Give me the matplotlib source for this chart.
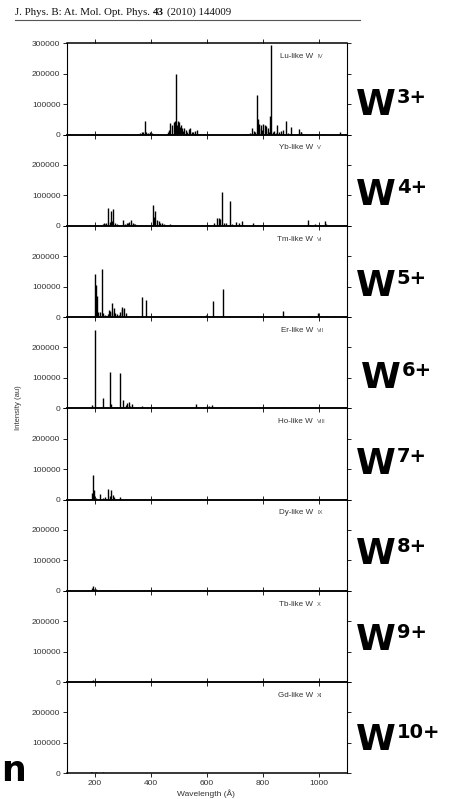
import matplotlib
matplotlib.use("Agg")
import matplotlib.pyplot as plt
from matplotlib.lines import Line2D
from matplotlib.ticker import FuncFormatter

# ---- data (wavelength in Angstrom, intensity in au) ----
lu_wl = [310, 362, 368, 374, 378, 383, 392, 398, 404,
         462, 466, 470, 476, 482, 486, 488, 491, 494, 496, 501, 505, 508, 513, 517, 520, 527, 531, 535, 541, 546, 551, 559, 565,
         733, 745, 755, 763, 769, 774, 779, 782, 785, 788, 793, 797, 801, 807, 810, 813, 819, 823, 827, 830, 836, 841, 846, 851,
         859, 867, 874, 883, 891, 901, 931, 935, 937, 943, 1015, 1075]
lu_int = [2000, 5000, 8000, 10000, 44000, 8000, 5000, 9000, 6000,
          8000, 15000, 38000, 30000, 42000, 25000, 45000, 200000, 30000, 45000, 40000, 25000, 30000, 20000, 12000, 20000, 15000,
          10000, 18000, 20000, 8000, 10000, 12000, 15000,
          2000, 3000, 6000, 20000, 12000, 8000, 131000, 50000, 20000, 35000, 30000, 15000, 35000, 30000, 12000, 28000, 20000,
          10000, 60000, 295000, 8000, 12000, 6000, 33000, 10000, 12000, 15000, 44000, 6000, 25000, 18000, 10000, 8000, 3000,
          2000, 7000]

yb_wl = [228, 234, 238, 242, 248, 254, 259, 263, 266, 272, 278, 284, 302, 308, 314, 318, 322, 328, 335, 340, 344, 356, 365,
         408, 412, 416, 422, 428, 434, 440, 448, 458, 470,
         625, 637, 643, 649, 656, 661, 669, 682, 691, 703, 715, 727, 764,
         963, 985, 1003, 1021, 1027, 1080, 1092]
yb_int = [5000, 8000, 6000, 8000, 60000, 12000, 48000, 15000, 54000, 10000, 5000, 3000, 20000, 5000, 8000, 10000, 12000,
          19000, 10000, 6000, 5000, 3000, 2000,
          68000, 30000, 50000, 20000, 15000, 10000, 8000, 5000, 3000, 5000,
          10000, 24000, 25000, 22000, 112000, 10000, 8000, 80000, 5000, 12000, 10000, 15000, 8000,
          18000, 5000, 4000, 15000, 5000, 3000, 3000]

tm_wl = [200, 204, 208, 213, 218, 226, 231, 236, 242, 248, 252, 256, 260, 263, 268, 273, 280, 286, 292, 296, 299, 304, 310,
         320, 332, 350,
         370, 382, 541, 577, 597, 624, 659, 679, 874, 967, 973, 997, 1003, 1027, 1057]
tm_int = [142000, 107000, 69000, 18000, 18000, 158000, 12000, 8000, 5000, 10000, 24000, 20000, 15000, 47000, 30000, 12000,
          10000, 8000, 15000, 25000, 32000, 30000, 12000, 3000, 2000, 2000,
          66000, 56000, 2000, 2000, 8000, 54000, 91000, 2000, 21000, 5000, 5000, 14000, 4000, 3000, 2000]

er_wl = [192, 201, 231, 253, 258, 270, 278, 290, 302, 311, 316, 321, 326, 333, 369, 434, 562, 587, 601, 608, 619, 685,
         874, 910, 1045]
er_int = [10000, 256000, 33000, 120000, 15000, 3000, 5000, 115000, 28000, 12000, 18000, 22000, 8000, 14000, 6000, 2000,
          15000, 5000, 6000, 8000, 12000, 3000, 3000, 3000, 2000]

ho_wl = [189, 194, 199, 206, 218, 230, 237, 248, 254, 259, 264, 269, 290, 296, 434]
ho_int = [20000, 81000, 30000, 5000, 18000, 5000, 10000, 35000, 12000, 33000, 15000, 8000, 8000, 3000, 2000]

dy_wl = [190, 194, 198, 206, 218, 230, 242, 254, 272]
dy_int = [8000, 16000, 6000, 5000, 3000, 2000, 4000, 2000, 2000]

tb_wl = [190, 194, 206, 218, 236, 254]
tb_int = [4000, 7000, 3000, 2000, 2000, 1500]

gd_wl = [188, 192, 205, 230, 250, 265]
gd_int = [3000, 4000, 3000, 3000, 2000, 2000]

ions = ["Lu", "Yb", "Tm", "Er", "Ho", "Dy", "Tb", "Gd"]
numerals = ["IV", "V", "VI", "VII", "VIII", "IX", "X", "XI"]
charges = ["3+", "4+", "5+", "6+", "7+", "8+", "9+", "10+"]
x_ticks = [200, 400, 600, 800, 1000]
y_ticks = [0, 100000, 200000, 300000]

spectra = [(lu_wl, lu_int), (yb_wl, yb_int), (tm_wl, tm_int), (er_wl, er_int),
           (ho_wl, ho_int), (dy_wl, dy_int), (tb_wl, tb_int), (gd_wl, gd_int)]

# ---- figure ----
W, H = 451, 799
fig = plt.figure(figsize=(W / 100, H / 100), dpi=100)
fig.patch.set_facecolor("white")

left_px, right_px = 66.7, 346.7
top_px, bot_px = 43.3, 773.3
n = len(spectra)
ph = (bot_px - top_px) / n
tick_col = "#333333"
for i, (wl, inten) in enumerate(spectra):
    y_top = top_px + i * ph
    ax = fig.add_axes([left_px / W, 1 - (y_top + ph) / H, (right_px - left_px) / W, ph / H])
    ax.set_facecolor("none")
    ax.vlines(wl, 0, inten, color="black", lw=1.0)
    ax.set_xlim(100, 1100)
    ax.set_ylim(0, 300000)
    ax.set_xticks(x_ticks)
    ax.set_yticks(y_ticks)
    first = (i == 0)
    ax.yaxis.set_major_formatter(FuncFormatter(
        lambda v, p, first=first: ("%d" % v) if (v < 250000 or first) else ""))
    ax.tick_params(axis="both", direction="out", length=3, width=0.6, top=True, right=True,
                   labelsize=6, colors="black", labelcolor=tick_col, pad=1.5)
    if i < n - 1:
        ax.tick_params(axis="x", labelbottom=False)
    for s in ax.spines.values():
        s.set_linewidth(0.8)
    for s in ("top", "bottom"):
        ax.spines[s].set_linewidth(1.1)
    ax.text(0.880, 0.853, ions[i] + "-like W", transform=ax.transAxes, ha="right", va="center",
            fontsize=5.8, color="#333333", family="Liberation Sans")
    ax.text(0.894, 0.853, numerals[i], transform=ax.transAxes, ha="left", va="center",
            fontsize=4.2, color="#555555", family="Liberation Sans")
    for lab in ax.get_xticklabels() + ax.get_yticklabels():
        lab.set_family("Liberation Sans")

fig.text(18 / W, 1 - 408 / H, "Intensity (au)", rotation=90, ha="center", va="center",
         fontsize=5.5, color="#333333", family="Liberation Sans")
fig.text(206 / W, 1 - 794 / H, "Wavelength (\u00c5)", ha="center", va="center",
         fontsize=6, color="#333333", family="Liberation Sans")

# ---- header ----
renderer = fig.canvas.get_renderer()
hx = 15.0
hy = 1 - 15 / H
space_px = 2.8
parts = [("J. Phys. B: At. Mol. Opt. Phys.", "normal"), ("43", "bold"), ("(2010) 144009", "normal")]
for txt, wgt in parts:
    t = fig.text(hx / W, hy, txt, ha="left", va="baseline", fontsize=7.8, family="Liberation Serif",
                 weight=wgt, color="#111111")
    bb = t.get_window_extent(renderer=renderer)
    hx = bb.x1 + space_px
fig.add_artist(Line2D([15 / W, 360 / W], [1 - 19.5 / H] * 2, color="#555555", lw=0.8))

# ---- right-hand charge labels ----
centers = [102, 192, 283, 375, 461, 551, 637, 737]
xs = [356, 356, 356, 361, 356, 356, 356, 356]
for c, cx, ch in zip(centers, xs, charges):
    base = c + 13
    t = fig.text(cx / W, 1 - base / H, "W", ha="left", va="baseline", fontsize=26,
                 weight="bold", family="DejaVu Sans", color="black")
    bb = t.get_window_extent(renderer=renderer)
    fig.text((bb.x1 + 1) / W, 1 - (base - 12) / H, ch, ha="left", va="baseline", fontsize=14,
             weight="bold", family="DejaVu Sans", color="black")

# partial large letter at bottom-left
fig.text(1 / W, 1 - 781 / H, "n", ha="left", va="baseline", fontsize=25, weight="bold",
         family="DejaVu Sans", color="black")

fig.savefig("out.png", dpi=100)
